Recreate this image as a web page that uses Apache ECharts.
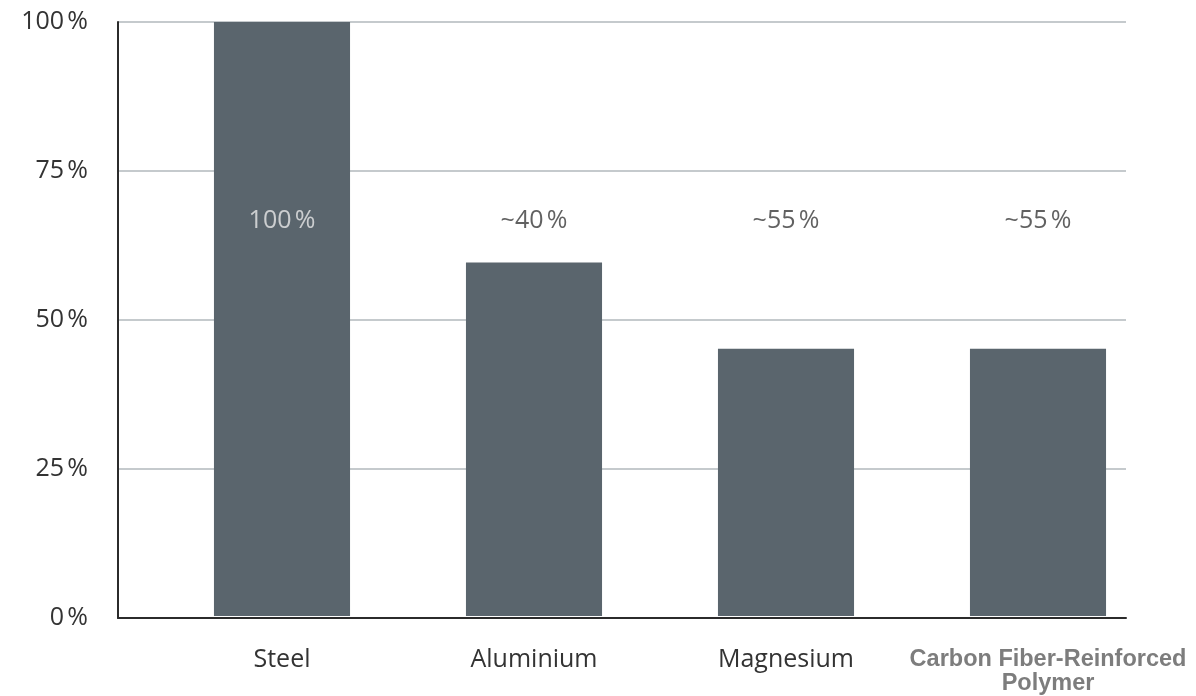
<!DOCTYPE html>
<html>
<head>
<meta charset="utf-8">
<script src="https://cdn.jsdelivr.net/npm/echarts@6/dist/echarts.min.js"></script>
<style>html,body{margin:0;padding:0;background:#fff}#c{width:1196px;height:696px}</style>
</head>
<body>
<div id="c"></div>
<script>
const categories = ['Steel', 'Aluminium', 'Magnesium', 'Carbon Fiber-Reinforced\nPolymer'];
const barValues = [100, 59.5, 45, 45];
const annotationTexts = ['100\u202F%', '~40\u202F%', '~55\u202F%', '~55\u202F%'];
const annotationLevel = [66.5, 66.5, 66.5, 66.5];
const yTicks = [0, 25, 50, 75, 100];

const chart = echarts.init(document.getElementById('c'), null, {renderer: 'canvas'});
chart.setOption({
  animation: false,
  backgroundColor: '#fff',
  grid: [
    {left: 118, right: 70, top: 22, bottom: 78, containLabel: false},
    {left: 156, right: 32, top: 22, bottom: 78, containLabel: false}
  ],
  xAxis: [
    {
      type: 'category', gridIndex: 0,
      data: categories,
      axisLine: {lineStyle: {color: '#2b2b2b', width: 2}},
      axisTick: {show: false},
      axisLabel: {show: false},
      z: 10
    },
    {
      type: 'category', gridIndex: 1,
      data: categories,
      axisLine: {show: false},
      axisTick: {show: false},
      axisLabel: {
        margin: 31,
        formatter: function (v, i) {
          return i === categories.length - 1 ? '{b|' + v.replace('\n', '}\n{b|') + '}' : '{n|' + v + '}';
        },
        rich: {
          n: {fontFamily: 'Open Sans', fontSize: 25, color: '#333'},
          b: {fontFamily: 'Liberation Sans', fontWeight: 'bold', fontSize: 23.5, color: '#7d7d7d', lineHeight: 24, padding: [2, 0, 0, 20]}
        }
      }
    }
  ],
  yAxis: [
    {
      type: 'value', gridIndex: 0,
      min: 0, max: 100, interval: 25,
      axisLine: {show: true, lineStyle: {color: '#2b2b2b', width: 2}},
      axisTick: {show: false},
      splitLine: {lineStyle: {color: '#c5cacd', width: 2}},
      axisLabel: {
        margin: 30,
        fontFamily: 'Open Sans', fontSize: 25, color: '#333',
        formatter: function (v) { return yTicks.indexOf(v) >= 0 ? v + '\u202F%' : ''; }
      },
      z: 0
    },
    {
      type: 'value', gridIndex: 1,
      min: 0, max: 100, interval: 25,
      show: false
    }
  ],
  series: [
    {
      type: 'bar',
      xAxisIndex: 1, yAxisIndex: 1,
      data: barValues,
      barWidth: '54%',
      itemStyle: {color: '#5a656d'},
      z: 5
    },
    {
      type: 'scatter',
      xAxisIndex: 1, yAxisIndex: 1,
      data: annotationLevel.map(function (v, i) {
        return i === 0 ? {value: v, label: {color: '#e8e8e8'}} : v;
      }),
      symbolSize: 0,
      z: 6,
      label: {
        show: true,
        position: 'inside',
        fontFamily: 'Open Sans', fontSize: 25,
        formatter: function (p) { return annotationTexts[p.dataIndex]; },
        color: '#3a3a3a'
      },
      itemStyle: {color: 'transparent'}
    }
  ]
});
</script>
</body>
</html>
